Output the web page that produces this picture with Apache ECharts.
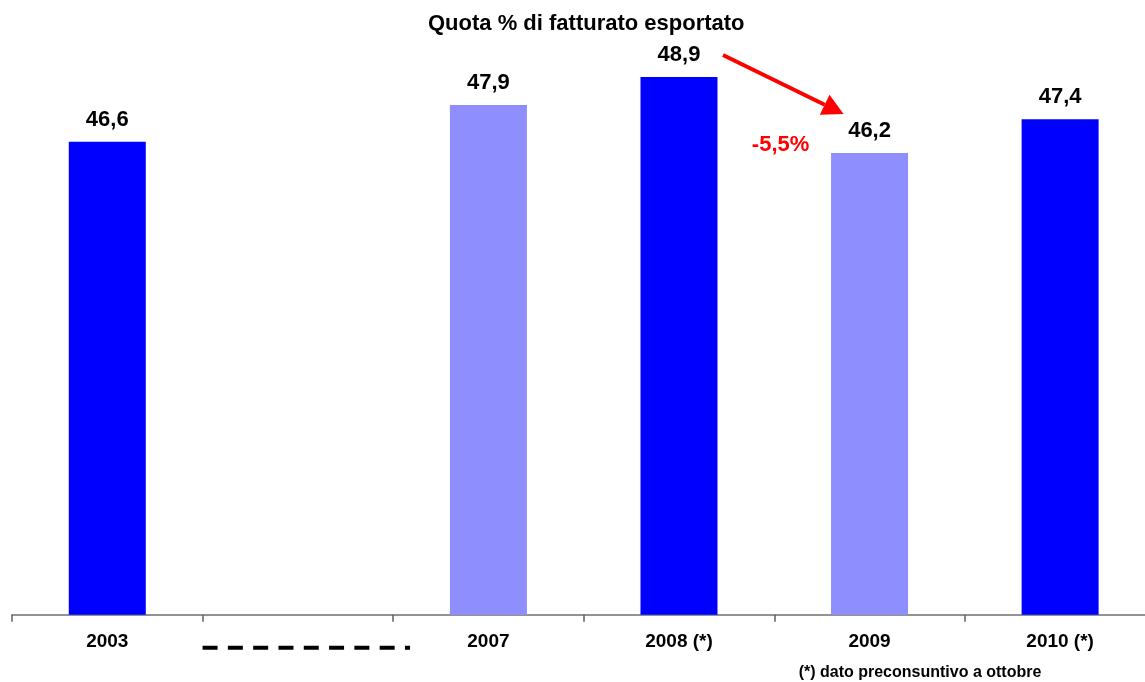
<!DOCTYPE html>
<html>
<head>
<meta charset="utf-8">
<title>Quota % di fatturato esportato</title>
<script src="https://cdn.jsdelivr.net/npm/echarts@6/dist/echarts.min.js"></script>
<style>
    html, body { margin: 0; padding: 0; background: #fff; }
    #app { width: 1145px; height: 682px; }
</style>
</head>
<body>
<div id="app"></div>
<script>
// dati del grafico
const anni = ['2003', '', '2007', '2008 (*)', '2009', '2010 (*)'];
const quote = [46.6, null, 47.9, 48.9, 46.2, 47.4];
// anni con la barra chiara
const anniChiari = ['2007', '2009'];
const variazione = '-5,5%';
const titolo = 'Quota % di fatturato esportato';
const nota = '(*) dato preconsuntivo a ottobre';

const font = '"Liberation Sans", Arial, sans-serif';
const chart = echarts.init(document.getElementById('app'));

// barre con il colore giusto
const barre = quote.map(function(v, i) {
    return {
        value: v,
        itemStyle: { color: anniChiari.indexOf(anni[i]) >= 0 ? '#8e8eff' : '#0000ff' }
    };
});

chart.setOption({
    animation: false,
    title: {
        text: titolo,
        left: 423,
        top: 8,
        textStyle: { fontFamily: font, fontSize: 22, fontWeight: 'bold', color: '#000' }
    },
    grid: { left: 12, width: 1143.4, top: 46, bottom: 67.3, outerBoundsMode: 'none', containLabel: false },
    xAxis: {
        type: 'category',
        data: anni,
        axisLine: { lineStyle: { color: '#707070', width: 1.5 } },
        axisTick: { show: true, length: 7, lineStyle: { color: '#606060', width: 1.5 } },
        axisLabel: {
            margin: 18,
            fontFamily: font, fontSize: 19, fontWeight: 'bold', color: '#000'
        }
    },
    yAxis: {
        type: 'value',
        min: 29.8,
        max: 50,
        show: false,
        splitLine: { show: false }
    },
    series: [{
        type: 'bar',
        data: barre,
        barWidth: 77,
        label: {
            show: true,
            position: 'top',
            distance: 11,
            fontFamily: font, fontSize: 22, fontWeight: 'bold', color: '#000',
            formatter: function(p) { return p.value.toFixed(1).replace('.', ','); }
        }
    }]
});

// freccia, variazione, linea tratteggiata e nota
function disegnaNote() {
    const px = function(i, v) {
        return chart.convertToPixel({ xAxisIndex: 0, yAxisIndex: 0 }, [i, v]);
    };
    const p2008 = px(3, quote[3]);
    const p2009 = px(4, quote[4]);
    const start = [p2008[0] + 44, p2008[1] - 22];
    const tip = [p2009[0] - 26, p2009[1] - 39];
    const dx = tip[0] - start[0], dy = tip[1] - start[1];
    const len = Math.sqrt(dx * dx + dy * dy);
    const ux = dx / len, uy = dy / len;
    const base = [tip[0] - ux * 21, tip[1] - uy * 21];
    const head = [
        tip,
        [base[0] - uy * 11, base[1] + ux * 11],
        [base[0] + uy * 11, base[1] - ux * 11]
    ];

    // linea tratteggiata sotto la categoria vuota
    const c1 = px(1, 29.8);
    const c2 = px(2, 29.8);
    const meta = (c2[0] - c1[0]) / 2;
    const xd = c1[0] - meta;

    chart.setOption({
        graphic: [
            {
                type: 'line',
                shape: { x1: start[0], y1: start[1], x2: base[0], y2: base[1] },
                style: { stroke: '#ff0000', lineWidth: 4 }
            },
            {
                type: 'polygon',
                shape: { points: head },
                style: { fill: '#ff0000' }
            },
            {
                type: 'text',
                x: p2009[0] - 89,
                y: p2009[1] - 8,
                style: {
                    text: variazione,
                    fill: '#ff0000',
                    font: 'bold 22px ' + font,
                    textAlign: 'center',
                    textVerticalAlign: 'middle'
                }
            },
            {
                type: 'line',
                shape: { x1: xd, y1: c1[1] + 33, x2: xd + 207.5, y2: c1[1] + 33 },
                style: { stroke: '#000', lineWidth: 4, lineDash: [15, 10.3] }
            },
            {
                type: 'text',
                x: 920,
                y: 673,
                style: {
                    text: nota,
                    fill: '#000',
                    font: 'bold 16px ' + font,
                    textAlign: 'center',
                    textVerticalAlign: 'middle'
                }
            }
        ]
    });
}

disegnaNote();
</script>
</body>
</html>
